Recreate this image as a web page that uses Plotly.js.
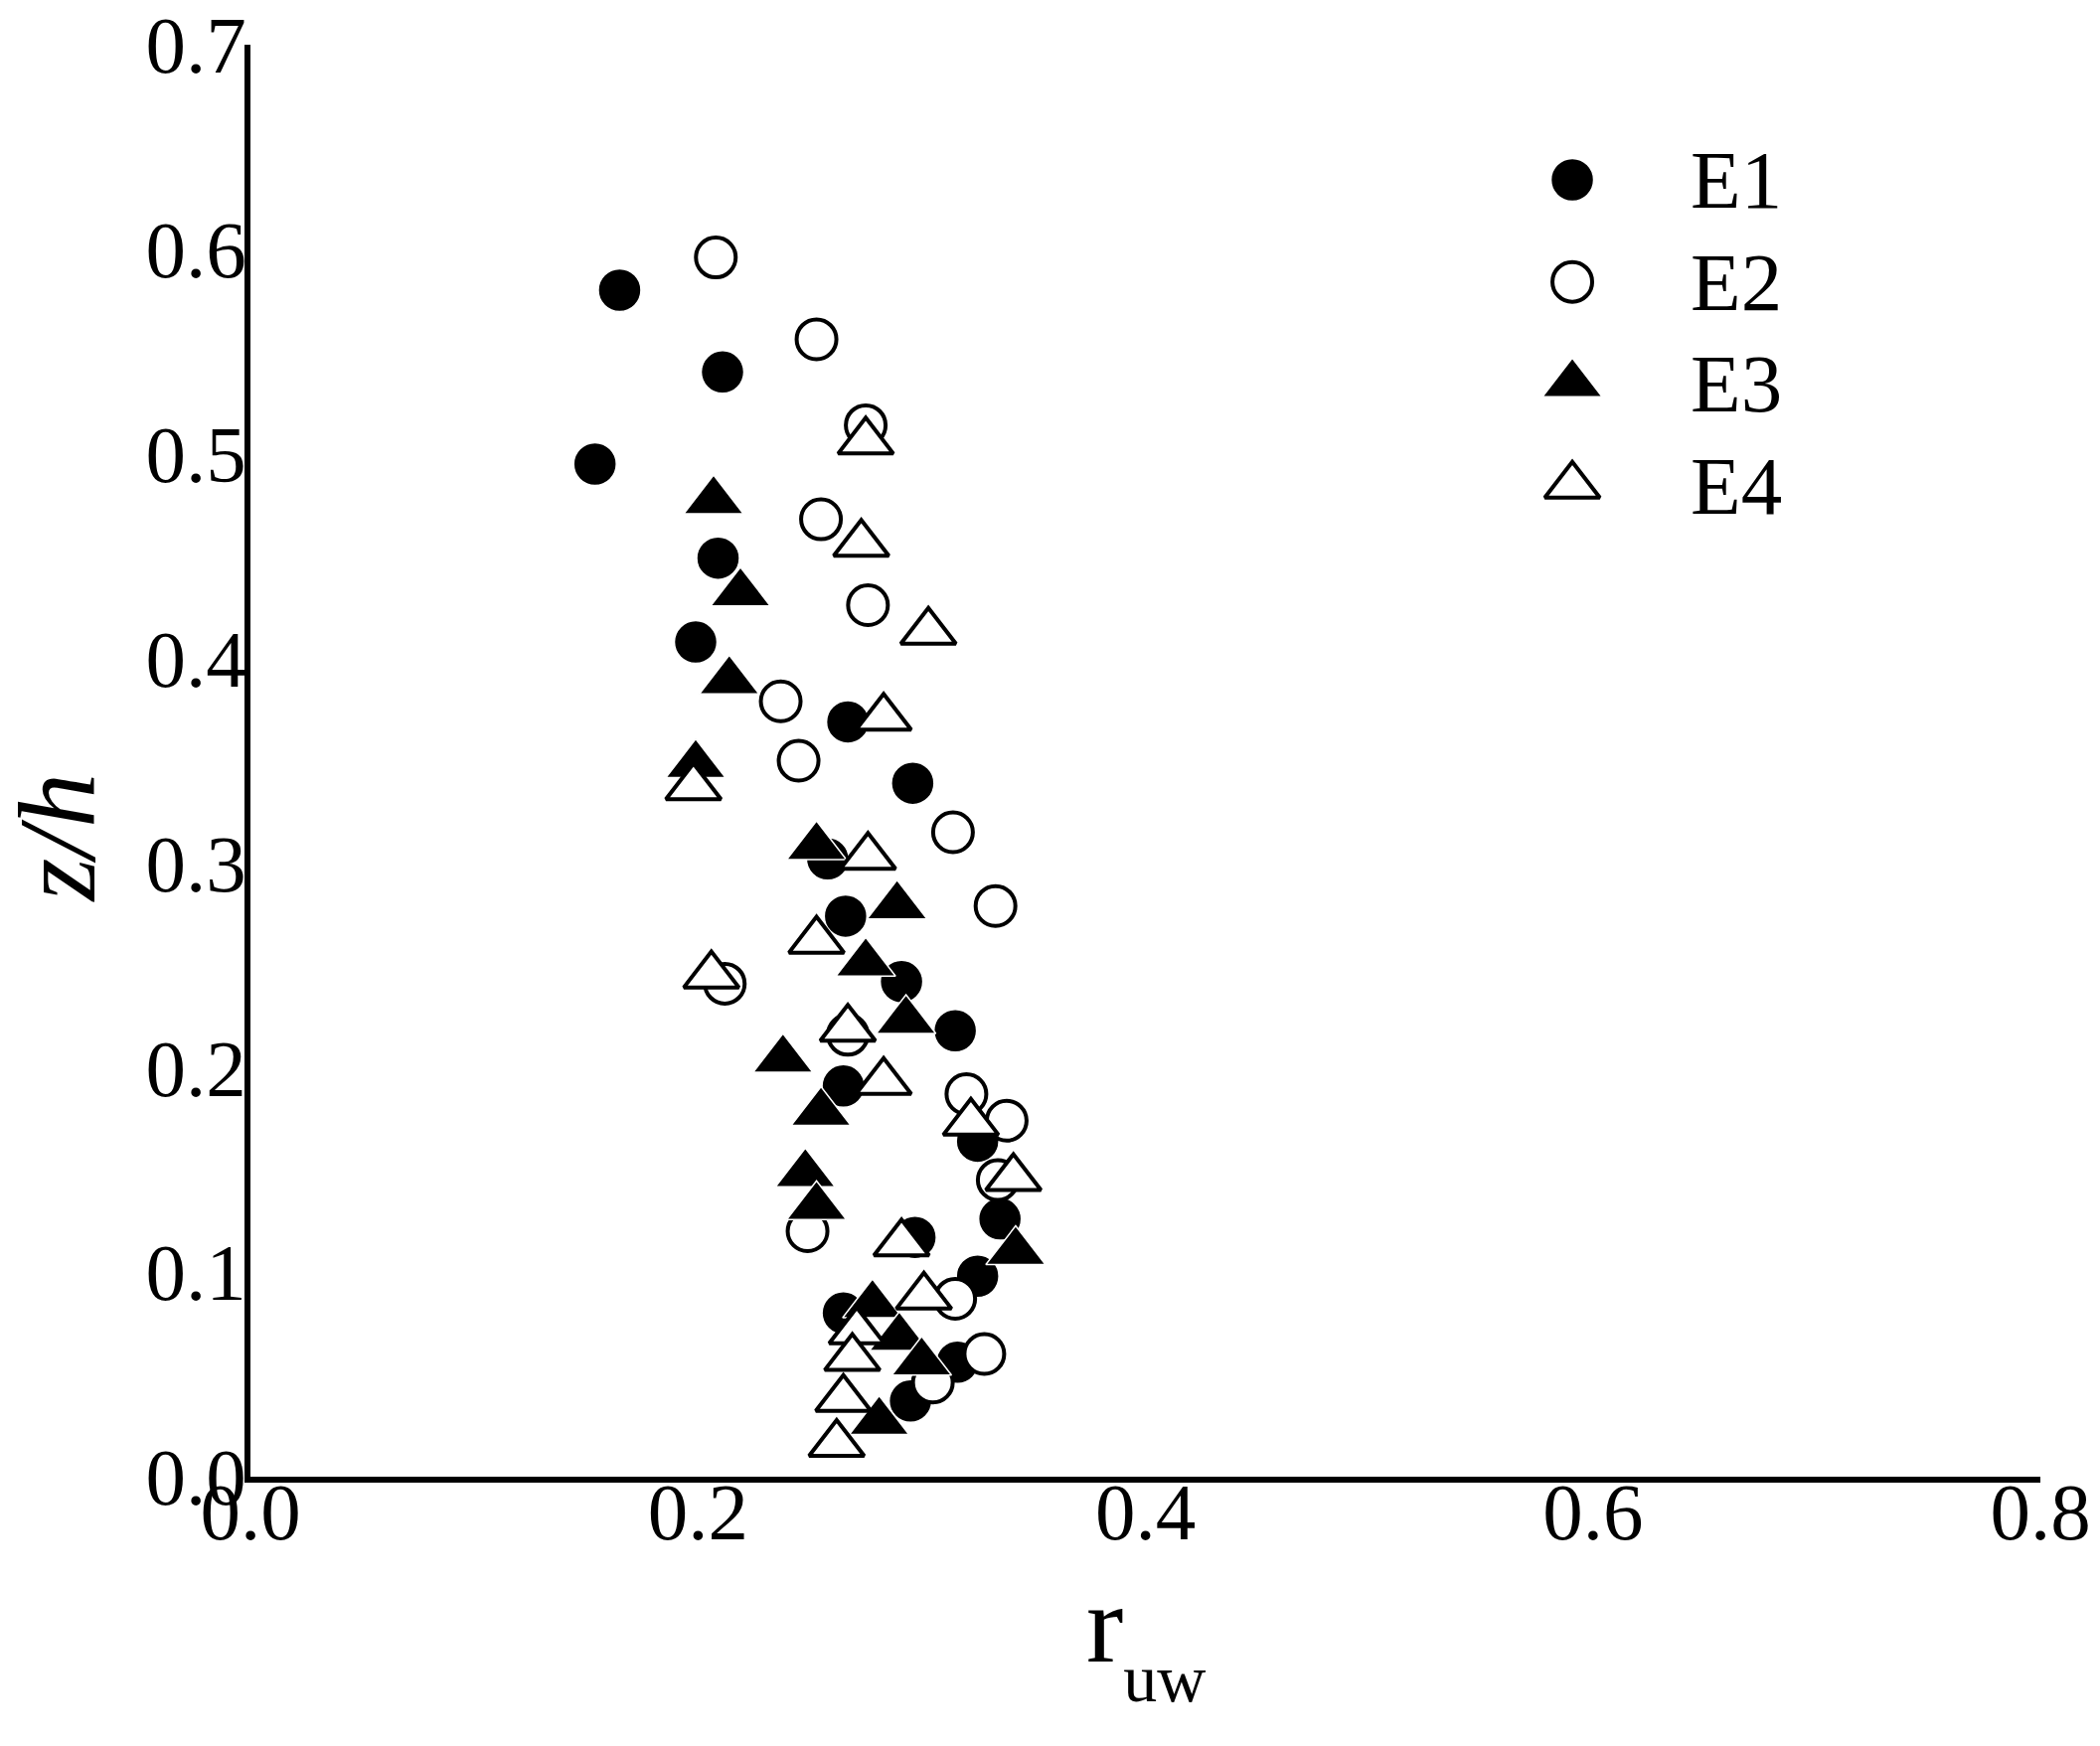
<!DOCTYPE html>
<html><head><meta charset="utf-8">
<script src="https://cdn.plot.ly/plotly-3.0.1.min.js"></script>
<style>html,body{margin:0;padding:0;background:#fff}</style>
</head><body>
<div id="chart" style="width:2113px;height:1757px"></div>
<script>
// ---- data ----
const seriesNames = ['E1', 'E2', 'E3', 'E4'];

const e1X = [0.165,0.211,0.154,0.209,0.199,0.267,0.296,0.258,0.266,0.291,0.315,0.265,0.325,0.335,0.297,0.325,0.265,0.316,0.295];
const e1Y = [0.580,0.540,0.495,0.449,0.408,0.369,0.339,0.302,0.274,0.242,0.218,0.191,0.164,0.126,0.117,0.098,0.080,0.056,0.037];

const e2X = [0.208,0.253,0.275,0.255,0.276,0.237,0.245,0.314,0.333,0.212,0.267,0.320,0.338,0.334,0.249,0.315,0.328,0.305];
const e2Y = [0.596,0.556,0.514,0.468,0.426,0.379,0.350,0.315,0.279,0.241,0.216,0.187,0.174,0.145,0.120,0.087,0.060,0.046];

const e3X = [0.207,0.219,0.214,0.199,0.253,0.289,0.275,0.293,0.238,0.255,0.248,0.253,0.342,0.278,0.290,0.300,0.281];
const e3Y = [0.477,0.432,0.389,0.348,0.308,0.279,0.251,0.223,0.204,0.178,0.148,0.132,0.110,0.084,0.068,0.056,0.027];

const e4X = [0.275,0.273,0.303,0.283,0.198,0.276,0.253,0.206,0.267,0.283,0.322,0.341,0.291,0.301,0.271,0.269,0.265,0.262];
const e4Y = [0.506,0.456,0.413,0.371,0.337,0.303,0.262,0.245,0.219,0.193,0.173,0.146,0.114,0.088,0.071,0.058,0.038,0.016];

const xTickVals = [0.0, 0.2, 0.4, 0.6, 0.8];
const xTickText = ['0.0', '0.2', '0.4', '0.6', '0.8'];
const yTickVals = [0.0, 0.1, 0.2, 0.3, 0.4, 0.5, 0.6, 0.7];
const yTickText = ['0.0', '0.1', '0.2', '0.3', '0.4', '0.5', '0.6', '0.7'];

// ---- styles ----
const FONT = 'Liberation Serif, Times New Roman, serif';
const styles = [
  {symbol: 'circle', size: 43, color: '#000', line: {color: '#fff', width: 1.5}},
  {symbol: 'circle', size: 40, color: '#fff', line: {color: '#000', width: 4}},
  {symbol: 'triangle-up', size: 52, color: '#000', line: {color: '#fff', width: 1.5}},
  {symbol: 'triangle-up', size: 48, color: '#fff', line: {color: '#000', width: 4}}
];
const xs = [e1X, e2X, e3X, e4X];
const ys = [e1Y, e2Y, e3Y, e4Y];

const traces = seriesNames.map((name, i) => ({
  type: 'scatter', mode: 'markers', name: name,
  x: xs[i], y: ys[i],
  marker: styles[i], cliponaxis: false, hoverinfo: 'skip'
}));

// legend drawn on an overlay axis (0..1 = plot area)
const legX = 0.7385, legTop = 0.9056, legStep = 0.0712, legTextX = 0.8034;
const legY = seriesNames.map((_, i) => legTop - i * legStep);
seriesNames.forEach((name, i) => {
  traces.push({
    type: 'scatter', mode: 'markers', xaxis: 'x2', yaxis: 'y2',
    x: [legX], y: [legY[i]], marker: styles[i], showlegend: false,
    cliponaxis: false, hoverinfo: 'skip'
  });
});

const annotations = seriesNames.map((name, i) => ({
  xref: 'paper', yref: 'paper', x: legTextX, y: legY[i],
  xanchor: 'left', yanchor: 'middle', showarrow: false,
  text: name, font: {family: FONT, size: 83, color: '#000'}
}));
annotations.push({
  xref: 'paper', yref: 'paper', x: 0.5, y: -0.0585, xanchor: 'center', yanchor: 'top',
  showarrow: false, text: 'r<sub><sub><span style="font-size:68px">uw</span></sub></sub>',
  font: {family: FONT, size: 112, color: '#000'}
});
annotations.push({
  xref: 'paper', yref: 'paper', x: -0.1075, y: 0.4462, xanchor: 'center', yanchor: 'middle',
  showarrow: false, textangle: -90, text: '<i>z/h</i>', font: {family: FONT, size: 110, color: '#000'}
});

const axisCommon = {
  showgrid: false, zeroline: false, showline: true, linewidth: 6, linecolor: '#000',
  ticks: '', tickfont: {family: FONT, size: 81, color: '#000'}, fixedrange: true
};

const layout = {
  width: 2113, height: 1757,
  margin: {l: 252, r: 60, t: 45, b: 271, pad: 0},
  paper_bgcolor: '#fff', plot_bgcolor: '#fff',
  showlegend: false,
  font: {family: FONT, color: '#000'},
  xaxis: Object.assign({range: [0, 0.8], tickvals: xTickVals, ticktext: xTickText, ticklabelstandoff: -40}, axisCommon),
  yaxis: Object.assign({range: [0, 0.7], tickvals: yTickVals, ticktext: yTickText, ticklabelstandoff: -18}, axisCommon),
  xaxis2: {overlaying: 'x', range: [0, 1], visible: false, fixedrange: true},
  yaxis2: {overlaying: 'y', range: [0, 1], visible: false, fixedrange: true},
  annotations: annotations
};

Plotly.newPlot('chart', traces, layout, {staticPlot: true, displayModeBar: false});
</script>
</body></html>
